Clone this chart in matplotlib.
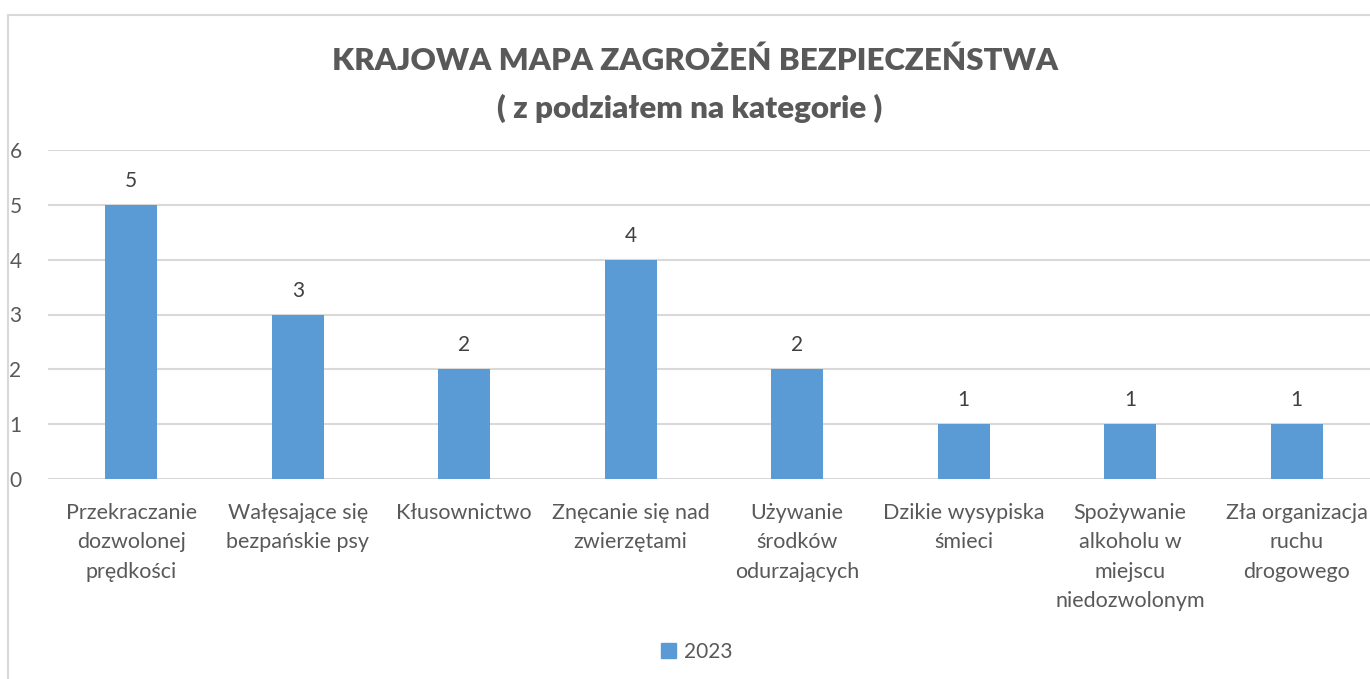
import matplotlib.pyplot as plt
from matplotlib.patches import Rectangle, Patch

categories = [
    "Przekraczanie\ndozwolonej\nprędkości",
    "Wałęsające się\nbezpańskie psy",
    "Kłusownictwo",
    "Znęcanie się nad\nzwierzętami",
    "Używanie\nśrodków\nodurzających",
    "Dzikie wysypiska\nśmieci",
    "Spożywanie\nalkoholu w\nmiejscu\nniedozwolonym",
    "Zła organizacja\nruchu\ndrogowego",
]
values_2023 = [5, 3, 2, 4, 2, 1, 1, 1]
y_ticks = [0, 1, 2, 3, 4, 5, 6]
series_name = "2023"

BAR = "#5B9BD5"
GRID = "#D9D9D9"
TXT = "#595959"

plt.rcParams["font.family"] = ["Lato", "DejaVu Sans"]

fig = plt.figure(figsize=(13.7, 6.79), dpi=100)
W, H = 1370, 679

# chart-area border (cut off on the right, like the reference)
fig.patches.append(Rectangle((8 / W, -0.01), 1.1, 1 - 15 / H + 0.01,
                             transform=fig.transFigure, fill=False,
                             edgecolor=GRID, linewidth=1.5))

ax = fig.add_axes([48 / W, 200 / H, 1332 / W, 329 / H])
x = range(len(categories))
bars = ax.bar(x, values_2023, width=0.31, color=BAR, zorder=3)
ax.bar_label(bars, padding=10, fontsize=15, color="#404040")

ax.set_xlim(-0.5, len(categories) - 0.5)
ax.set_ylim(0, 6)
ax.set_yticks(y_ticks)
ax.set_xticks(list(x))
ax.set_xticklabels(categories, fontsize=15.5, color=TXT, linespacing=1.6)
ax.tick_params(axis="y", labelsize=15, labelcolor=TXT, length=0, pad=19)
ax.tick_params(axis="x", length=0, pad=17)
ax.yaxis.grid(True, color=GRID, linewidth=1.5, zorder=0)
for s in ax.spines.values():
    s.set_visible(False)

fig.text(695 / W, 1 - 61 / H, "KRAJOWA MAPA ZAGROŻEŃ BEZPIECZEŃSTWA",
         ha="center", va="center", fontsize=22.5, fontweight="heavy", color=TXT)
fig.text(690 / W, 1 - 108 / H, "( z podziałem na kategorie )",
         ha="center", va="center", fontsize=22.5, fontweight="heavy", color=TXT)

fig.legend(handles=[Patch(color=BAR, label=series_name)], loc="center",
           bbox_to_anchor=(697 / W, 1 - 652 / H), frameon=False,
           fontsize=15, labelcolor=TXT, handlelength=0.7, handleheight=0.7,
           handletextpad=0.4)

fig.savefig("out.png", dpi=100)
